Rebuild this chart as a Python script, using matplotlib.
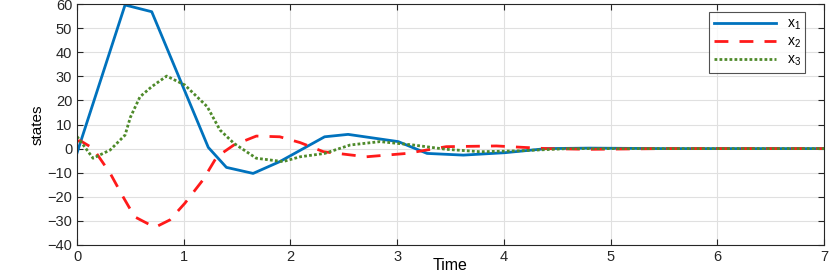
"""State trajectories x1, x2, x3 over time"""

import matplotlib
matplotlib.use('Agg')
import matplotlib.pyplot as plt

plt.rcParams['font.family'] = ['Liberation Sans', 'DejaVu Sans']

# x1 (blue, solid)
t1 = [0.0, 0.45, 0.70, 1.23, 1.40, 1.65, 1.90, 2.32, 2.54, 3.01, 3.28, 3.62, 4.01, 4.40, 4.8, 5.5, 6.5, 7.0]
x1 = [-1.8, 59.6, 56.8, 0.5, -7.8, -10.3, -5.4, 4.9, 5.9, 2.9, -2.0, -2.7, -1.7, 0.0, 0.2, 0.0, 0.0, 0.0]

# x2 (red, dashed)
t2 = [0.0, 0.03, 0.15, 0.31, 0.43, 0.54, 0.73, 0.87, 1.01, 1.18, 1.31, 1.47, 1.68, 1.9, 2.09, 2.31, 2.71, 3.09, 3.46, 3.93, 4.4, 4.8, 5.5, 6.5, 7.0]
x2 = [3.0, 3.3, 0.1, -10.2, -19.9, -28.3, -32.7, -29.6, -22.7, -13.0, -3.4, 1.5, 5.2, 4.9, 2.5, -1.3, -3.4, -2.0, 0.8, 1.1, 0.0, -0.3, 0.0, 0.0, 0.0]

# x3 (green, dotted)
t3 = [0.0, 0.15, 0.31, 0.45, 0.50, 0.59, 0.70, 0.84, 1.01, 1.22, 1.34, 1.47, 1.68, 1.93, 2.09, 2.32, 2.56, 2.84, 3.15, 3.46, 3.78, 4.16, 4.6, 5.5, 6.5, 7.0]
x3 = [5.0, -4.0, -0.6, 5.6, 13.0, 21.5, 25.7, 30.1, 26.4, 17.4, 7.7, 2.2, -4.0, -5.4, -3.4, -2.0, 1.5, 2.9, 1.5, -0.3, -1.3, -0.9, 0.0, 0.0, 0.0, 0.0]

x_ticks = [0, 1, 2, 3, 4, 5, 6, 7]
y_ticks = [-40, -30, -20, -10, 0, 10, 20, 30, 40, 50, 60]

fig = plt.figure(figsize=(8.3, 2.73), dpi=100)
ax = fig.add_axes([0.0928, 0.1026, 0.90, 0.8827])

ax.plot(t1, x1, color='#0072BD', lw=2, label=r'$\mathregular{x_1}$')
ax.plot(t2, x2, color='#FF1A1A', lw=2, ls=(0, (5, 4)), label=r'$\mathregular{x_2}$')
ax.plot(t3, x3, color='#4E8A2A', lw=2, ls=(0, (1, 0.8)), label=r'$\mathregular{x_3}$')

ax.set_xlim(0, 7)
ax.set_ylim(-40, 60)
ax.set_xticks(x_ticks)
ax.set_yticks(y_ticks)
ax.tick_params(direction='in', top=True, right=True, labelsize=10.5, length=4, colors='#262626')
ax.grid(True, color='#E0E0E0', lw=0.8)
ax.set_axisbelow(True)
for sp in ax.spines.values():
    sp.set_color('#262626')
    sp.set_linewidth(0.8)

ax.set_xlabel('Time', fontsize=11.5, labelpad=-4)
ax.set_ylabel('states', fontsize=11, labelpad=2, fontstretch='condensed')

leg = ax.legend(loc='upper right', bbox_to_anchor=(0.975, 0.965), borderaxespad=0,
                fancybox=False, edgecolor='#262626', fontsize=10, handlelength=4.5,
                labelspacing=0.2, borderpad=0.3)
leg.get_frame().set_linewidth(0.8)

fig.savefig('out.png', dpi=100)
